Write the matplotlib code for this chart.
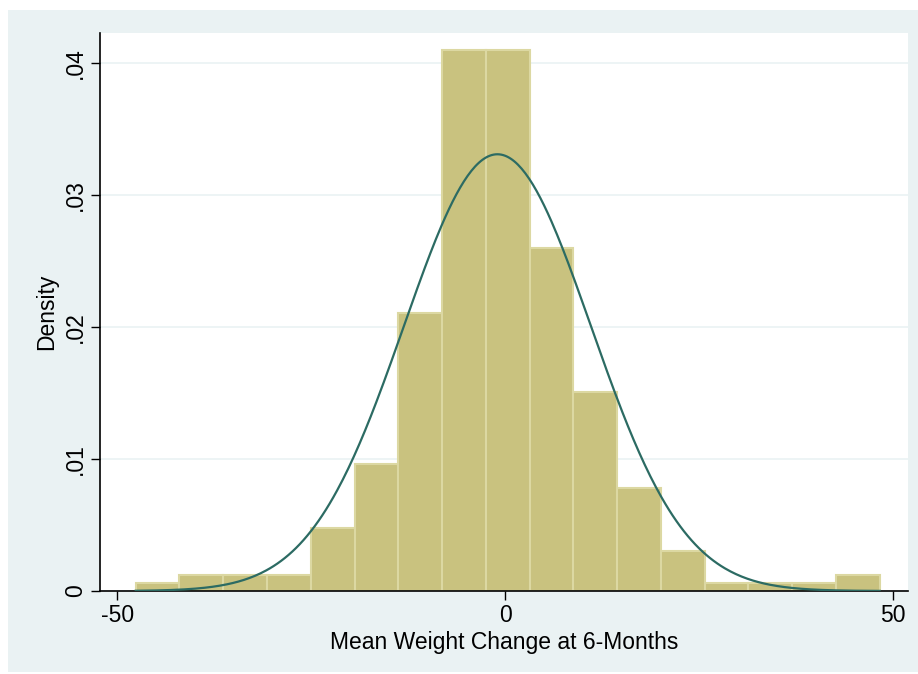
import numpy as np
import matplotlib
matplotlib.use('Agg')
import matplotlib.pyplot as plt
from matplotlib.patches import Rectangle

plt.rcParams['font.family'] = ['Liberation Sans', 'DejaVu Sans']
plt.rcParams['axes.unicode_minus'] = False

# histogram (density per bin)
bin_lo = -47.6
bin_hi = 48.25
density = [0.0006, 0.0012, 0.0012, 0.0012, 0.0048, 0.0096, 0.0211, 0.0410,
           0.0410, 0.0260, 0.0151, 0.0078, 0.0030, 0.0006, 0.0006, 0.0006,
           0.0012]
# normal overlay
mu = -1.0
sd = 12.05

xticks = [-50, 0, 50]
yticks = [0, 0.01, 0.02, 0.03, 0.04]
ylabels = ['0', '.01', '.02', '.03', '.04']

bg = '#eaf2f3'
bar_col = '#c9c27f'
edge_col = '#dcd8a2'
line_col = '#2c6b63'

fig = plt.figure(figsize=(9.18, 6.74), dpi=100)
fig.patches.append(Rectangle((8 / 918, 2 / 674), 910 / 918, 662 / 674,
                             transform=fig.transFigure, facecolor=bg,
                             edgecolor='none', zorder=-5))
ax = fig.add_axes([100 / 918, 83 / 674, 808 / 918, 558 / 674])
ax.set_zorder(1)
ax.set_facecolor('white')

edges = np.linspace(bin_lo, bin_hi, len(density) + 1)
ax.bar(edges[:-1], density, width=np.diff(edges), align='edge',
       color=bar_col, edgecolor=edge_col, linewidth=1.5, zorder=2)

xs = np.linspace(bin_lo, bin_hi, 400)
ax.plot(xs, np.exp(-0.5 * ((xs - mu) / sd) ** 2) / (sd * np.sqrt(2 * np.pi)),
        color=line_col, linewidth=1.6, zorder=3)

ax.set_xlim(-52.2, 51.9)
ax.set_ylim(0, 0.0423)
ax.set_xticks(xticks)
ax.set_yticks(yticks)
ax.set_yticklabels(ylabels, rotation=90, va='center')
ax.tick_params(direction='out', length=6.5, width=1, labelsize=16.5, pad=3)
ax.grid(axis='y', color=bg, linewidth=1.2, zorder=1)
ax.set_axisbelow(True)
for s in ['top', 'right']:
    ax.spines[s].set_visible(False)
for s in ['left', 'bottom']:
    ax.spines[s].set_linewidth(1.2)

ax.set_xlabel('Mean Weight Change at 6-Months', fontsize=16.5, labelpad=3)
ax.set_ylabel('Density', fontsize=16.5, labelpad=4)

fig.savefig('out.png', dpi=100)
